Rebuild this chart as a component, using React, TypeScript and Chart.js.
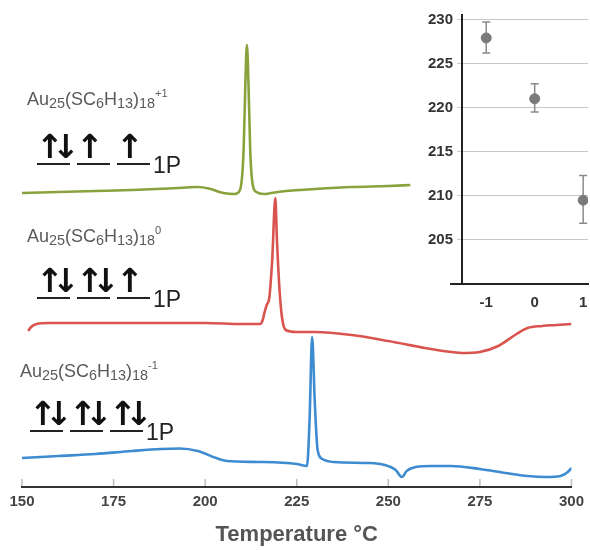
import React, { useEffect, useRef } from 'react';
import { Chart, registerables } from 'chart.js';
Chart.register(...registerables);

// ---------- main DSC traces (temperature °C, signal in arbitrary offset units) ----------
const greenT = [150, 160, 170, 180, 190, 195, 198, 201, 205, 208, 209.5, 210.5, 211, 211.4, 211.8, 212.3, 213, 214, 216, 218, 222, 230, 240, 250, 256];
const greenV = [294, 295, 296, 297, 298.5, 299.5, 300, 298.5, 294, 293, 297, 337, 407, 442, 407, 337, 302, 295, 293, 294, 296, 298, 300, 301, 302];

const redT = [151.7, 152.5, 154, 157, 165, 180, 200, 210, 215, 215.7, 216.3, 216.8, 217.5, 218.3, 219.15, 219.6, 220.3, 221, 222, 225, 230, 240, 250, 260, 265, 270, 275, 280, 285, 288, 292, 296, 300];
const redV = [156, 160, 163, 164, 164, 164, 164, 163, 163, 167, 176, 182, 189, 227, 289, 247, 197, 169, 157, 155, 155, 152, 146, 139, 136, 134, 135, 141, 153, 159, 161, 162, 163];

const blueT = [150, 160, 170, 180, 188, 193, 198, 203, 206, 215, 225, 227.8, 228.5, 229.2, 229.9, 230.7, 232, 235, 245, 249, 252, 253.7, 255, 257.5, 262, 267, 275, 282, 288, 293, 297, 299, 300];
const blueV = [29, 31, 33, 36, 38, 38.5, 36, 29, 26, 25, 23, 21, 67, 150, 87, 37, 28, 25, 24, 22, 17, 10, 16, 20, 21, 21, 18, 14, 11, 10, 11, 15, 19];

const xTicks = [150, 175, 200, 225, 250, 275, 300];

// ---------- inset: peak temperature vs charge ----------
const insetCharge = [-1, 0, 1];
const insetMean = [227.9, 221.0, 209.5];
const insetLow = [226.2, 219.5, 206.9];
const insetHigh = [229.7, 222.7, 212.3];
const insetXTicks = [-1, 0, 1];
const insetYTicks = [205, 210, 215, 220, 225, 230];

// ---------- labels ----------
const charges = ['+1', '0', '-1'];
const occupations = [
  ['ud', 'u', 'u'],
  ['ud', 'ud', 'u'],
  ['ud', 'ud', 'ud'],
];

const FONT = '"Liberation Sans", Arial, Helvetica, sans-serif';

const toPts = (t: number[], v: number[]) => t.map((x, i) => ({ x, y: v[i] }));

function MainChart() {
  const ref = useRef<HTMLCanvasElement>(null);
  useEffect(() => {
    const innerTicks = {
      id: 'innerTicks',
      afterDraw(chart: any) {
        const { ctx, chartArea, scales } = chart;
        const x = scales.x;
        ctx.save();
        ctx.strokeStyle = '#bdbdbd';
        ctx.lineWidth = 1.5;
        xTicks.forEach((v) => {
          const px = x.getPixelForValue(v);
          ctx.beginPath();
          ctx.moveTo(px, chartArea.bottom - 1);
          ctx.lineTo(px, chartArea.bottom - 8);
          ctx.stroke();
        });
        ctx.restore();
      },
    };
    const ds = (data: any, color: string) => ({
      data,
      borderColor: color,
      borderWidth: 2.6,
      pointRadius: 0,
      cubicInterpolationMode: 'monotone' as const,
      fill: false,
    });
    const chart = new Chart(ref.current!, {
      type: 'line',
      data: {
        datasets: [
          ds(toPts(greenT, greenV), '#8aa23c'),
          ds(toPts(redT, redV), '#d9534f'),
          ds(toPts(blueT, blueV), '#3d8bd0'),
        ],
      },
      options: {
        responsive: false,
        animation: false,
        events: [],
        layout: { padding: { left: 22, right: 17, top: 0, bottom: 0 } },
        plugins: { legend: { display: false }, tooltip: { enabled: false } },
        scales: {
          x: {
            type: 'linear',
            min: 150,
            max: 300,
            afterBuildTicks: (s: any) => {
              s.ticks = xTicks.map((value) => ({ value }));
            },
            afterFit: (s: any) => {
              s.height = 63;
            },
            ticks: {
              color: '#444',
              font: { family: FONT, size: 15, weight: 'bold' },
              padding: 6,
            },
            grid: { display: false, drawTicks: false },
            border: { display: true, color: '#333', width: 2 },
            title: {
              display: true,
              text: 'Temperature °C',
              color: '#555',
              font: { family: FONT, size: 22, weight: 'bold' },
              padding: { top: 0, bottom: 2 },
            },
          },
          y: { display: false, min: 0, max: 487 },
        },
      },
      plugins: [innerTicks],
    } as any);
    return () => chart.destroy();
  }, []);
  return <canvas ref={ref} width={590} height={550} style={{ position: 'absolute', left: 0, top: 0 }} />;
}

function InsetChart() {
  const ref = useRef<HTMLCanvasElement>(null);
  useEffect(() => {
    const errorBars = {
      id: 'errorBars',
      beforeDatasetsDraw(chart: any) {
        const { ctx, scales } = chart;
        ctx.save();
        ctx.strokeStyle = '#8a8a8a';
        ctx.lineWidth = 1.5;
        insetCharge.forEach((v, i) => {
          const px = scales.x.getPixelForValue(v);
          const y1 = scales.y.getPixelForValue(insetLow[i]);
          const y2 = scales.y.getPixelForValue(insetHigh[i]);
          ctx.beginPath();
          ctx.moveTo(px, y1);
          ctx.lineTo(px, y2);
          ctx.moveTo(px - 4, y1);
          ctx.lineTo(px + 4, y1);
          ctx.moveTo(px - 4, y2);
          ctx.lineTo(px + 4, y2);
          ctx.stroke();
        });
        ctx.restore();
      },
      afterDraw(chart: any) {
        const { ctx, chartArea } = chart;
        ctx.save();
        ctx.strokeStyle = '#222';
        ctx.lineWidth = 2;
        ctx.beginPath();
        ctx.moveTo(chartArea.left - 12, chartArea.bottom);
        ctx.lineTo(chartArea.left, chartArea.bottom);
        ctx.stroke();
        ctx.restore();
      },
    };
    const tickFont = { family: FONT, size: 15, weight: 'bold' };
    const chart = new Chart(ref.current!, {
      type: 'scatter',
      data: {
        datasets: [
          {
            data: insetCharge.map((x, i) => ({ x, y: insetMean[i] })),
            backgroundColor: '#7a7a7a',
            borderColor: '#7a7a7a',
            pointRadius: 5,
          },
        ],
      },
      options: {
        responsive: false,
        animation: false,
        events: [],
        layout: { padding: { top: 15, left: 0, right: 0, bottom: 0 } },
        plugins: { legend: { display: false }, tooltip: { enabled: false } },
        scales: {
          x: {
            type: 'linear',
            min: -1.5,
            max: 1.1,
            afterBuildTicks: (s: any) => {
              s.ticks = insetXTicks.map((value) => ({ value }));
            },
            afterFit: (s: any) => {
              s.height = 36;
              s.paddingLeft = 0;
              s.paddingRight = 0;
            },
            ticks: { color: '#333', font: tickFont, padding: 10 },
            grid: { display: false, drawTicks: false },
            border: { display: true, color: '#222', width: 2 },
          },
          y: {
            min: 200,
            max: 230.5,
            afterBuildTicks: (s: any) => {
              s.ticks = insetYTicks.map((value) => ({ value }));
            },
            afterFit: (s: any) => {
              s.width = 62;
              s.paddingTop = 0;
              s.paddingBottom = 0;
            },
            ticks: { color: '#333', font: tickFont, padding: 4 },
            grid: { color: '#c8c8c8', lineWidth: 1, tickLength: 5, drawTicks: true },
            border: { display: true, color: '#222', width: 2 },
          },
        },
      },
      plugins: [errorBars],
    } as any);
    return () => chart.destroy();
  }, []);
  return <canvas ref={ref} width={194} height={320} style={{ position: 'absolute', left: 400, top: 0 }} />;
}

const subStyle: React.CSSProperties = { fontSize: '0.8em', verticalAlign: '-0.22em', lineHeight: 0 };
const supStyle: React.CSSProperties = { fontSize: '0.62em', verticalAlign: '0.7em', lineHeight: 0 };

function Formula({ left, top, charge }: { left: number; top: number; charge: string }) {
  return (
    <div
      style={{
        position: 'absolute',
        left,
        top,
        fontFamily: FONT,
        fontSize: 18,
        lineHeight: '20px',
        color: '#5a5a5a',
        whiteSpace: 'nowrap',
      }}
    >
      Au<sub style={subStyle}>25</sub>(SC<sub style={subStyle}>6</sub>H<sub style={subStyle}>13</sub>)
      <sub style={subStyle}>18</sub>
      <sup style={supStyle}>{charge}</sup>
    </div>
  );
}

function Levels({ left, lineY, occ }: { left: number; lineY: number; occ: string[] }) {
  const arrowStyle: React.CSSProperties = {
    position: 'absolute',
    width: 16,
    textAlign: 'center',
    fontFamily: '"DejaVu Sans", sans-serif',
    fontWeight: 'bold',
    fontSize: 33,
    lineHeight: '33px',
    color: '#111',
    bottom: 0,
  };
  return (
    <>
      {occ.map((o, i) => (
        <div
          key={i}
          style={{
            position: 'absolute',
            left: left + i * 40,
            top: lineY - 40,
            width: 33,
            height: 40,
            borderBottom: '2px solid #222',
          }}
        >
          <span style={{ ...arrowStyle, left: -1 }}>↑</span>
          {o === 'ud' ? <span style={{ ...arrowStyle, left: 15 }}>↓</span> : null}
        </div>
      ))}
      <div
        style={{
          position: 'absolute',
          left: left + 116,
          top: lineY - 10,
          fontFamily: FONT,
          fontSize: 23,
          lineHeight: '24px',
          color: '#222',
        }}
      >
        1P
      </div>
    </>
  );
}

export default function App() {
  const formulaPos = [
    { left: 27, top: 89 },
    { left: 27, top: 226 },
    { left: 20, top: 361 },
  ];
  const levelPos = [
    { left: 37, lineY: 163 },
    { left: 37, lineY: 297 },
    { left: 30, lineY: 430 },
  ];
  return (
    <div style={{ position: 'absolute', left: 0, top: 0, width: 590, height: 550, background: '#fff', overflow: 'hidden' }}>
      <MainChart />
      <InsetChart />
      {charges.map((c, i) => (
        <React.Fragment key={i}>
          <Formula left={formulaPos[i].left} top={formulaPos[i].top} charge={c} />
          <Levels left={levelPos[i].left} lineY={levelPos[i].lineY} occ={occupations[i]} />
        </React.Fragment>
      ))}
    </div>
  );
}
